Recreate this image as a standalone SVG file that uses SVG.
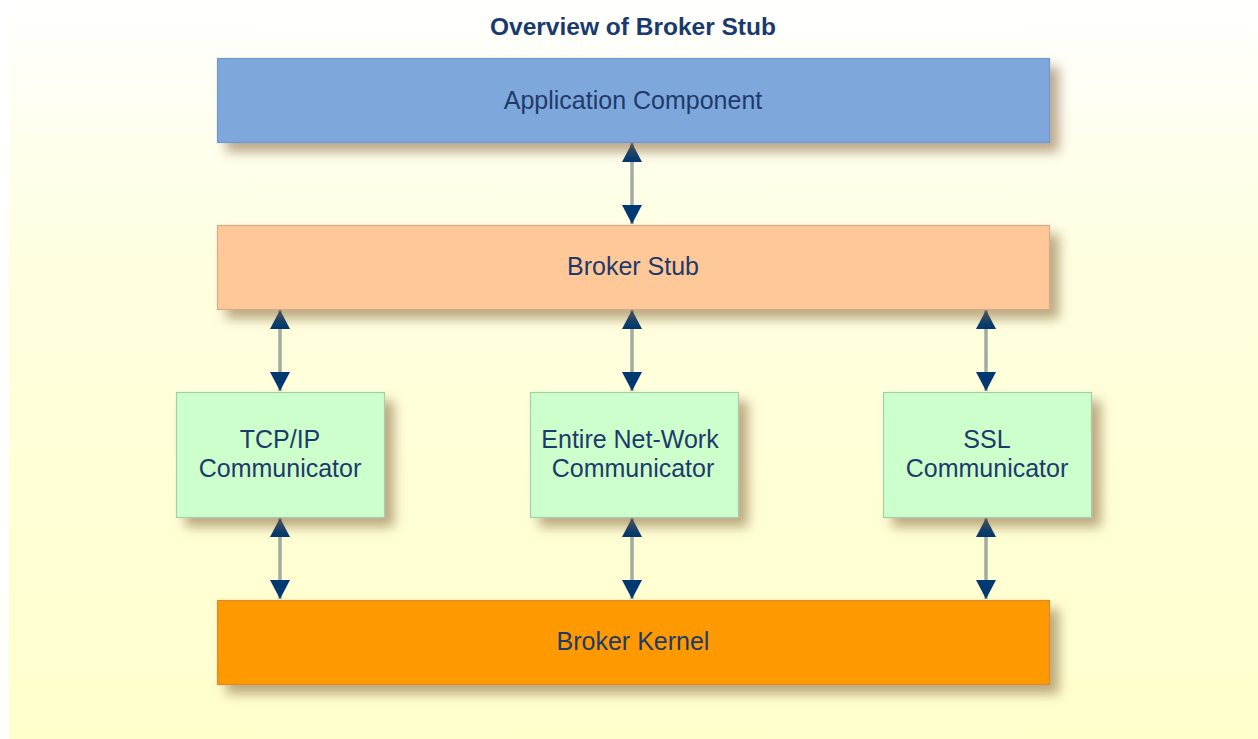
<svg xmlns="http://www.w3.org/2000/svg" width="1258" height="739" viewBox="0 0 1258 739">
<defs>
<linearGradient id="bg" x1="0" y1="0" x2="0" y2="1">
<stop offset="0" stop-color="#FFFFFF"/>
<stop offset="0.35" stop-color="#FFFFE0"/>
<stop offset="1" stop-color="#FFFFCC"/>
</linearGradient>
<filter id="sh" x="-10%" y="-30%" width="130%" height="170%">
<feGaussianBlur in="SourceAlpha" stdDeviation="6"/>
<feOffset dx="9" dy="9" result="b"/>
<feFlood flood-color="#85633a" flood-opacity="0.55"/>
<feComposite in2="b" operator="in"/>
<feMerge><feMergeNode/><feMergeNode in="SourceGraphic"/></feMerge>
</filter>
<marker id="ah" viewBox="0 0 19 20" refX="19" refY="10" markerWidth="19" markerHeight="20" markerUnits="userSpaceOnUse" orient="auto-start-reverse">
<path d="M0,0 L19,10 L0,20 Z" fill="#003872"/>
</marker>
</defs>
<style>
.box{stroke-width:1.2}
.lbl{font-family:"Liberation Sans",Arial,sans-serif;font-size:25px;fill:#1E3A6A;text-anchor:middle}
.ttl{font-family:"Liberation Sans",Arial,sans-serif;font-size:24.5px;font-weight:bold;fill:#193A6E;text-anchor:middle}
.con{stroke:#A3ABA3;stroke-width:3.5;fill:none}
</style>
<rect x="0" y="0" width="1258" height="739" fill="#FFFFFF"/>
<rect x="9" y="0" width="1249" height="739" fill="url(#bg)"/>
<text class="ttl" x="633" y="35">Overview of Broker Stub</text>

<g id="connectors">
<line class="con" x1="632" y1="143" x2="632" y2="224" marker-start="url(#ah)" marker-end="url(#ah)"/>
<line class="con" x1="280" y1="310" x2="280" y2="391" marker-start="url(#ah)" marker-end="url(#ah)"/>
<line class="con" x1="632" y1="310" x2="632" y2="391" marker-start="url(#ah)" marker-end="url(#ah)"/>
<line class="con" x1="986" y1="310" x2="986" y2="391" marker-start="url(#ah)" marker-end="url(#ah)"/>
<line class="con" x1="280" y1="518" x2="280" y2="599" marker-start="url(#ah)" marker-end="url(#ah)"/>
<line class="con" x1="632" y1="518" x2="632" y2="599" marker-start="url(#ah)" marker-end="url(#ah)"/>
<line class="con" x1="986" y1="518" x2="986" y2="599" marker-start="url(#ah)" marker-end="url(#ah)"/>
</g>

<g id="app">
<rect class="box" x="217.5" y="58.5" width="832" height="84" fill="#7EA8DC" stroke="#6E98CE" filter="url(#sh)"/>
<text class="lbl" x="633" y="109">Application Component</text>
</g>
<g id="stub">
<rect class="box" x="217.5" y="225.5" width="832" height="84" fill="#FFC899" stroke="#D8AA88" filter="url(#sh)"/>
<text class="lbl" x="633" y="275">Broker Stub</text>
</g>
<g id="tcp">
<rect class="box" x="176.5" y="392.5" width="208" height="125" fill="#CCFFCC" stroke="#A8CCA8" filter="url(#sh)"/>
<text class="lbl" x="280" y="448">TCP/IP</text>
<text class="lbl" x="280" y="477">Communicator</text>
</g>
<g id="entire">
<rect class="box" x="530.5" y="392.5" width="208" height="125" fill="#CCFFCC" stroke="#A8CCA8" filter="url(#sh)"/>
<text class="lbl" x="630" y="448">Entire Net-Work</text>
<text class="lbl" x="633" y="477">Communicator</text>
</g>
<g id="ssl">
<rect class="box" x="883.5" y="392.5" width="208" height="125" fill="#CCFFCC" stroke="#A8CCA8" filter="url(#sh)"/>
<text class="lbl" x="987" y="448">SSL</text>
<text class="lbl" x="987" y="477">Communicator</text>
</g>
<g id="kernel">
<rect class="box" x="217.5" y="600.5" width="832" height="84" fill="#FF9900" stroke="#D88A30" filter="url(#sh)"/>
<text class="lbl" x="633" y="650">Broker Kernel</text>
</g>
</svg>
